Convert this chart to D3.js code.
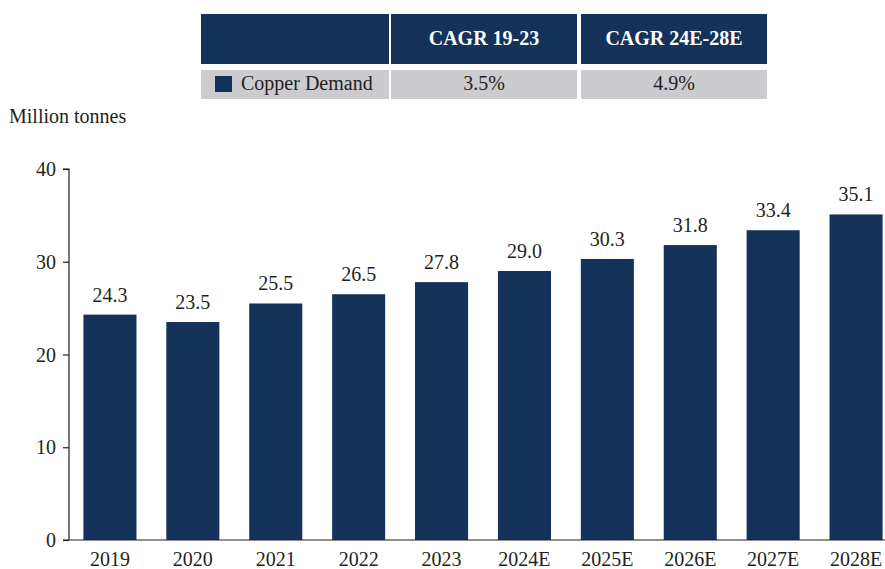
<!DOCTYPE html>
<html>
<head>
<meta charset="utf-8">
<script src="https://cdn.jsdelivr.net/npm/d3@7"></script>
<style>
  body { margin: 0; background: #fff; }
  svg { display: block; }
</style>
</head>
<body>
<div id="chart"></div>
<script>
// chart data
const years = ["2019", "2020", "2021", "2022", "2023", "2024E", "2025E", "2026E", "2027E", "2028E"]
const demand = [24.3, 23.5, 25.5, 26.5, 27.8, 29.0, 30.3, 31.8, 33.4, 35.1]
const yTicks = [0, 10, 20, 30, 40]

// cagr table
const tableHeaders = ["", "CAGR 19-23", "CAGR 24E-28E"]
const tableRow = ["Copper Demand", "3.5%", "4.9%"]

const navy = "#14325a"
const grey = "#cccbd0"
const textColor = "#231f20"
const font = "'Liberation Serif', 'Times New Roman', serif"

const width = 885
const height = 569

const svg = d3.select("#chart").append("svg")
    .attr("width", width)
    .attr("height", height)
    .style("font-family", font)

// --- table ---
const colX = [201, 391, 581]
const colW = [188, 186, 186]

const table = svg.append("g")

table.selectAll("rect.head")
    .data(tableHeaders)
    .enter()
    .append("rect")
    .attr("class", "head")
    .attr("x", (d, i) => colX[i])
    .attr("y", 14)
    .attr("width", (d, i) => colW[i])
    .attr("height", 50)
    .attr("fill", navy)

table.selectAll("text.head")
    .data(tableHeaders)
    .enter()
    .append("text")
    .attr("class", "head")
    .attr("x", (d, i) => colX[i] + colW[i] / 2)
    .attr("y", 45)
    .attr("text-anchor", "middle")
    .attr("fill", "#fff")
    .attr("font-weight", "bold")
    .attr("font-size", 20)
    .text(d => d)

table.selectAll("rect.row")
    .data(tableRow)
    .enter()
    .append("rect")
    .attr("class", "row")
    .attr("x", (d, i) => colX[i])
    .attr("y", 70)
    .attr("width", (d, i) => colW[i])
    .attr("height", 29)
    .attr("fill", grey)

table.append("rect")
    .attr("x", 215)
    .attr("y", 76)
    .attr("width", 17)
    .attr("height", 16)
    .attr("fill", navy)

table.selectAll("text.row")
    .data(tableRow)
    .enter()
    .append("text")
    .attr("class", "row")
    .attr("x", (d, i) => i == 0 ? 241 : colX[i] + colW[i] / 2)
    .attr("y", 90)
    .attr("text-anchor", (d, i) => i == 0 ? "start" : "middle")
    .attr("fill", textColor)
    .attr("font-size", 20)
    .text(d => d)

// --- bar chart ---
svg.append("text")
    .attr("x", 9)
    .attr("y", 123)
    .attr("fill", textColor)
    .attr("font-size", 20)
    .text("Million tonnes")

const x = d3.scaleBand()
    .domain(years)
    .range([68.5, 897.5])
    .paddingInner(0.36)
    .paddingOuter(0.18)

const y = d3.scaleLinear()
    .domain([0, 40])
    .range([540, 169])

const g = svg.append("g")

g.selectAll("rect.bar")
    .data(demand)
    .enter()
    .append("rect")
    .attr("class", "bar")
    .attr("x", (d, i) => x(years[i]))
    .attr("y", d => y(d))
    .attr("width", x.bandwidth())
    .attr("height", d => y(0) - y(d))
    .attr("fill", navy)

g.selectAll("text.val")
    .data(demand)
    .enter()
    .append("text")
    .attr("class", "val")
    .attr("x", (d, i) => x(years[i]) + x.bandwidth() / 2)
    .attr("y", d => y(d) - 13)
    .attr("text-anchor", "middle")
    .attr("fill", textColor)
    .attr("font-size", 20)
    .text(d => d.toFixed(1))

// y axis
const yAxis = svg.append("g")
    .attr("transform", "translate(69,0)")
    .call(d3.axisLeft(y).tickValues(yTicks).tickSize(6).tickPadding(7))

yAxis.select(".domain").attr("stroke", textColor).attr("stroke-width", 1.2)
    .attr("d", "M-6,169H0V540")
yAxis.selectAll(".tick line").attr("stroke", textColor).attr("stroke-width", 1.2)
yAxis.selectAll(".tick text")
    .attr("fill", textColor)
    .attr("font-size", 20)
    .attr("font-family", font)
    .attr("dy", "0.33em")

// x axis
const xAxis = svg.append("g")
    .attr("transform", "translate(0,540)")
    .call(d3.axisBottom(x).tickSize(0).tickPadding(0))

xAxis.select(".domain").attr("stroke", textColor).attr("stroke-width", 1.2)
    .attr("d", "M63,0H885")
xAxis.selectAll(".tick text")
    .attr("fill", textColor)
    .attr("font-size", 20)
    .attr("font-family", font)
    .attr("dy", 0)
    .attr("y", 26)
</script>
</body>
</html>
